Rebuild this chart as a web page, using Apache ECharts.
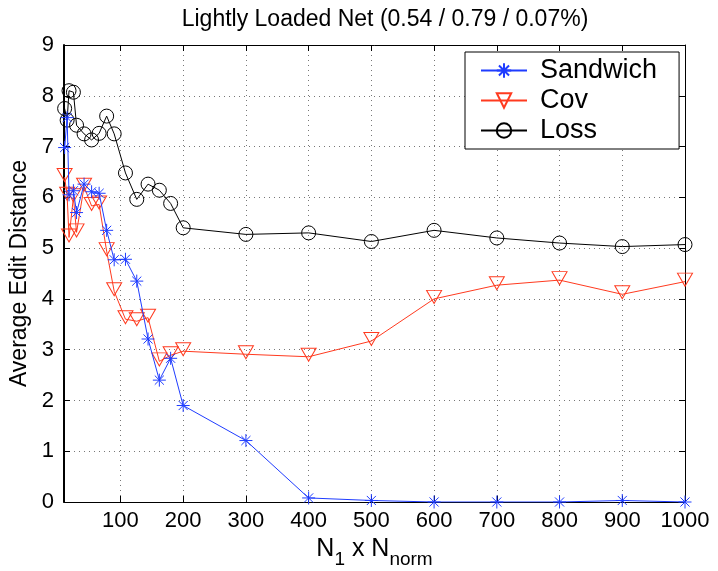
<!DOCTYPE html>
<html>
<head>
<meta charset="utf-8">
<script src="https://cdn.jsdelivr.net/npm/echarts@6/dist/echarts.min.js"></script>
<style>
  html, body { margin: 0; padding: 0; background: #fff; }
  #chart { width: 718px; height: 571px; }
</style>
</head>
<body>
<div id="chart"></div>
<script>
// Sample sizes (N1 x Nnorm) and average edit distance for each estimator
var xValues = [11, 15, 18, 25, 30, 42, 54, 66, 78, 90, 108, 126, 144, 162, 180, 200,
               300, 400, 500, 600, 700, 800, 900, 1000];
var sandwich = [6.98, 7.57, 6.05, 6.13, 5.70, 6.26, 6.11, 6.08, 5.35, 4.77, 4.78, 4.35,
                3.21, 2.40, 2.83, 1.90, 1.21, 0.08, 0.03, 0.00, 0.00, 0.00, 0.03, 0.00];
var cov = [6.40, 6.03, 5.21, 6.00, 5.31, 6.21, 5.83, 5.86, 4.94, 4.15, 3.60, 3.56,
           3.63, 2.77, 2.89, 2.97, 2.91, 2.86, 3.17, 4.00, 4.27, 4.37, 4.09, 4.34];
var loss = [7.75, 7.52, 8.10, 8.07, 7.42, 7.25, 7.13, 7.26, 7.60, 7.25, 6.48, 5.96,
            6.26, 6.14, 5.88, 5.40, 5.27, 5.30, 5.13, 5.35, 5.20, 5.10, 5.03, 5.07];
var xTicks = [100, 200, 300, 400, 500, 600, 700, 800, 900, 1000];

function pairs(ys) {
  return xValues.map(function (x, i) { return [x, ys[i]]; });
}

var FONT = 'Liberation Sans';
var BLUE = '#1f3cff';
var RED = '#ff3a1f';
var BLACK = '#000';

// Stroke-only marker shapes
var STAR = 'path://M0,5 L10,5 M5,0 L5,10 M1.5,1.5 L8.5,8.5 M1.5,8.5 L8.5,1.5';
var TRI_DOWN = 'path://M0,0 L10,0 L5,8.4 Z';

var grid = { left: 64, top: 45, width: 621, height: 457, outerBoundsMode: 'none', containLabel: false };
var dotted = { color: '#777', width: 1, type: [1, 4] };

var chart = echarts.init(document.getElementById('chart'), null, { renderer: 'canvas' });

chart.setOption({
  animation: false,
  backgroundColor: '#fff',
  title: {
    text: 'Lightly Loaded Net (0.54 / 0.79 / 0.07%)',
    left: 380, top: 3, textAlign: 'center',
    textStyle: { fontFamily: FONT, fontSize: 23, fontWeight: 'normal', color: BLACK }
  },
  grid: grid,
  legend: {
    orient: 'vertical',
    left: 465, top: 52,
    padding: [5, 22, 5, 15],
    itemGap: 3,
    itemWidth: 46, itemHeight: 18,
    backgroundColor: '#fff',
    borderColor: BLACK, borderWidth: 1, borderRadius: 0,
    textStyle: { fontFamily: FONT, fontSize: 27, color: BLACK, padding: [0, 0, 0, 8] },
    data: ['Sandwich', 'Cov', 'Loss']
  },
  xAxis: [{
    type: 'value', position: 'bottom', min: 10, max: 1000,
    name: '{n|N}{s|1}{n| x N}{s|norm}',
    nameLocation: 'middle', nameGap: 33,
    nameTextStyle: {
      rich: {
        n: { fontFamily: FONT, fontSize: 25, color: BLACK, verticalAlign: 'top', lineHeight: 26 },
        s: { fontFamily: FONT, fontSize: 19, color: BLACK, verticalAlign: 'top', padding: [13, 0, 0, 0], lineHeight: 26 }
      }
    },
    axisLine: { onZero: false, lineStyle: { color: BLACK, width: 1 } },
    axisTick: { inside: true, length: 6, customValues: xTicks, lineStyle: { color: BLACK } },
    axisLabel: {
      customValues: xTicks, fontFamily: FONT, fontSize: 22, color: BLACK, margin: 8,
      formatter: function (v) { return String(v); }
    },
    splitLine: { show: true, customValues: xTicks, lineStyle: dotted }
  }, {
    type: 'value', position: 'top', min: 10, max: 1000,
    axisLine: { onZero: false, lineStyle: { color: BLACK, width: 1 } },
    axisTick: { inside: true, length: 6, customValues: xTicks, lineStyle: { color: BLACK } },
    axisLabel: { show: false },
    splitLine: { show: false }
  }],
  yAxis: [{
    type: 'value', position: 'left', min: 0, max: 9, interval: 1,
    name: 'Average Edit Distance',
    nameLocation: 'middle', nameGap: 27,
    nameTextStyle: { fontFamily: FONT, fontSize: 23, color: BLACK },
    axisLine: { onZero: false, lineStyle: { color: BLACK, width: 2 } },
    axisTick: { inside: true, length: 6, lineStyle: { color: BLACK } },
    axisLabel: { fontFamily: FONT, fontSize: 22, color: BLACK, margin: 10 },
    splitLine: { show: true, lineStyle: dotted }
  }, {
    type: 'value', position: 'right', min: 0, max: 9, interval: 1,
    axisLine: { onZero: false, lineStyle: { color: BLACK, width: 1 } },
    axisTick: { inside: true, length: 6, lineStyle: { color: BLACK } },
    axisLabel: { show: false },
    splitLine: { show: false }
  }],
  series: [{
    name: 'Sandwich', type: 'line', data: pairs(sandwich),
    symbol: STAR, symbolSize: 13,
    lineStyle: { color: BLUE, width: 1 },
    itemStyle: { color: 'rgba(0,0,0,0)', borderColor: BLUE, borderWidth: 1 },
    z: 4
  }, {
    name: 'Cov', type: 'line', data: pairs(cov),
    symbol: TRI_DOWN, symbolSize: [15, 13], symbolOffset: [0, -2],
    lineStyle: { color: RED, width: 1 },
    itemStyle: { color: 'rgba(0,0,0,0)', borderColor: RED, borderWidth: 1 },
    z: 3
  }, {
    name: 'Loss', type: 'line', data: pairs(loss),
    symbol: 'circle', symbolSize: 14,
    lineStyle: { color: BLACK, width: 1 },
    itemStyle: { color: 'rgba(0,0,0,0)', borderColor: BLACK, borderWidth: 1 },
    z: 2
  }]
});
</script>
</body>
</html>
